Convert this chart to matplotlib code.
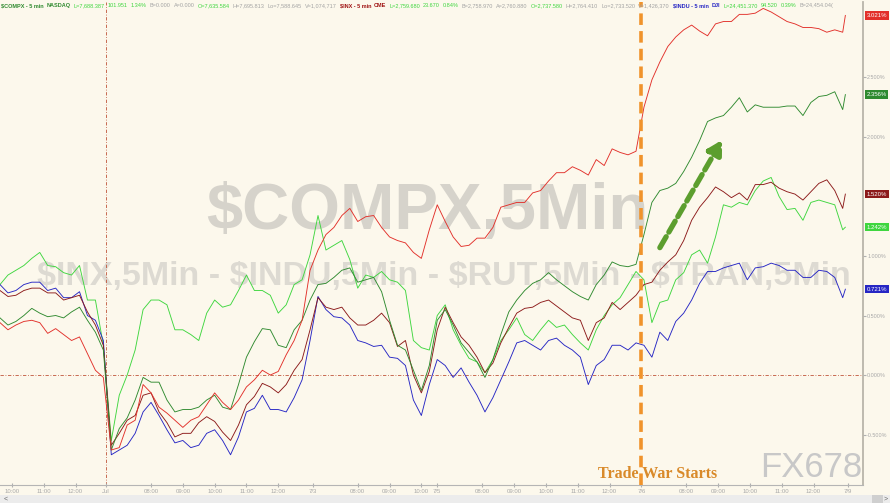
import matplotlib
matplotlib.use("Agg")
import matplotlib.pyplot as plt
from matplotlib import font_manager
from matplotlib.patches import Rectangle
import matplotlib.transforms as mtransforms

# x = 5-minute bar index, starting Jun 29 afternoon, one sample every 3 bars
bars = list(range(0, 319, 3)) + [319]

# % change of each index (segments: Jun 29 | Jul 2 | Jul 3 | Jul 5 | Jul 6)
inx = [0.44, 0.38, 0.42, 0.45, 0.46, 0.44, 0.35, 0.39, 0.34, 0.29, 0.32, 0.18, 0.04, -0.02,
       -0.63, -0.61, -0.42, -0.38, -0.08, -0.15, -0.27, -0.32, -0.38, -0.44, -0.38, -0.35, -0.25,
       -0.15, -0.23, -0.29, -0.21, -0.10, -0.04, 0.04, 0.00, 0.03, 0.17, 0.29, 0.46, 0.88,
       1.05, 1.18, 1.24, 1.34, 1.40, 1.29, 1.33, 1.34, 1.24, 1.16, 1.13, 1.11, 1.03, 0.98, 1.22,
       1.43, 1.29, 1.16, 1.08, 1.09, 1.15, 1.15, 1.24, 1.41, 1.43, 1.45, 1.45, 1.53, 1.55, 1.63,
       1.70, 1.70, 1.75, 1.72, 1.68, 1.81, 1.76, 1.90, 1.87, 1.85, 1.88,
       2.25, 2.48, 2.63, 2.76, 2.84, 2.90, 2.94, 2.89, 2.85, 2.95, 2.97, 2.97, 3.03, 3.03, 3.04,
       3.08, 3.05, 3.01, 2.97, 2.95, 2.92, 2.92, 2.91, 2.88, 2.90, 2.88, 3.021]

compx = [0.48, 0.42, 0.45, 0.50, 0.56, 0.52, 0.49, 0.50, 0.48, 0.53, 0.57, 0.46, 0.36, 0.21,
         -0.63, -0.45, -0.36, -0.21, -0.02, -0.06, -0.06, -0.21, -0.31, -0.29, -0.29, -0.27, -0.21,
         -0.17, -0.27, -0.29, -0.08, 0.15, 0.28, 0.39, 0.38, 0.25, 0.23, 0.38, 0.46, 0.63,
         0.76, 0.77, 0.82, 0.88, 0.90, 0.78, 0.80, 0.82, 0.70, 0.46, 0.25, 0.21, 0.04, -0.13, 0.08,
         0.46, 0.55, 0.42, 0.27, 0.19, 0.11, -0.02, 0.13, 0.34, 0.53, 0.63, 0.71, 0.77, 0.80, 0.86,
         0.80, 0.75, 0.70, 0.66, 0.63, 0.76, 0.84, 0.95, 0.92, 0.91, 0.93,
         1.18, 1.45, 1.55, 1.57, 1.61, 1.71, 1.83, 1.97, 2.13, 2.16, 2.18, 2.25, 2.33, 2.21, 2.27,
         2.25, 2.25, 2.25, 2.26, 2.26, 2.18, 2.29, 2.34, 2.35, 2.38, 2.23, 2.356]

tran = [0.71, 0.66, 0.67, 0.71, 0.73, 0.73, 0.69, 0.69, 0.63, 0.65, 0.67, 0.53, 0.42, 0.25,
        -0.59, -0.49, -0.38, -0.34, -0.17, -0.15, -0.31, -0.40, -0.52, -0.49, -0.49, -0.40, -0.35,
        -0.39, -0.48, -0.55, -0.42, -0.25, -0.18, -0.07, -0.10, -0.15, -0.08, 0.04, 0.13, 0.38,
        0.65, 0.57, 0.55, 0.57, 0.48, 0.42, 0.42, 0.46, 0.52, 0.44, 0.24, 0.29, 0.00, -0.15, 0.03,
        0.38, 0.57, 0.44, 0.32, 0.25, 0.15, 0.02, 0.10, 0.27, 0.40, 0.52, 0.56, 0.57, 0.61, 0.63,
        0.58, 0.53, 0.48, 0.46, 0.29, 0.44, 0.48, 0.61, 0.55, 0.61, 0.67,
        0.76, 0.78, 0.88, 0.95, 1.01, 1.13, 1.30, 1.41, 1.49, 1.58, 1.54, 1.49, 1.53, 1.47, 1.60,
        1.60, 1.62, 1.57, 1.54, 1.52, 1.47, 1.54, 1.61, 1.64, 1.55, 1.40, 1.520]

rut = [0.76, 0.84, 0.88, 0.92, 0.98, 1.03, 0.92, 0.91, 0.86, 0.84, 0.92, 0.63, 0.63, 0.25,
       -0.55, -0.17, 0.00, 0.21, 0.55, 0.63, 0.63, 0.59, 0.38, 0.38, 0.34, 0.29, 0.52,
       0.63, 0.57, 0.59, 0.71, 0.84, 0.71, 0.71, 0.67, 0.52, 0.59, 0.76, 0.80, 1.01,
       1.34, 1.05, 1.09, 1.13, 0.97, 0.73, 0.84, 0.82, 0.87, 0.80, 0.78, 0.71, 0.29, 0.23, 0.21,
       0.50, 0.59, 0.38, 0.25, 0.14, 0.11, 0.02, 0.13, 0.29, 0.38, 0.48, 0.34, 0.29, 0.38, 0.46,
       0.40, 0.42, 0.34, 0.27, 0.21, 0.38, 0.50, 0.59, 0.65, 0.76, 0.87,
       0.80, 0.44, 0.61, 0.63, 0.80, 0.86, 1.01, 1.05, 0.94, 1.16, 1.43, 1.41, 1.45, 1.43, 1.55,
       1.63, 1.66, 1.50, 1.39, 1.40, 1.30, 1.45, 1.47, 1.45, 1.43, 1.22, 1.242]

indu = [0.76, 0.69, 0.71, 0.76, 0.78, 0.78, 0.71, 0.73, 0.65, 0.65, 0.70, 0.50, 0.46, 0.29,
        -0.67, -0.63, -0.59, -0.49, -0.31, -0.23, -0.34, -0.46, -0.57, -0.55, -0.61, -0.59, -0.49,
        -0.46, -0.55, -0.67, -0.52, -0.31, -0.28, -0.17, -0.29, -0.29, -0.31, -0.19, -0.04, 0.29,
        0.66, 0.55, 0.49, 0.48, 0.42, 0.29, 0.27, 0.24, 0.25, 0.15, 0.14, 0.08, -0.21, -0.34, -0.08,
        0.13, 0.08, -0.02, 0.06, -0.06, -0.17, -0.31, -0.19, -0.04, 0.11, 0.27, 0.29, 0.25, 0.21,
        0.29, 0.31, 0.25, 0.21, 0.15, -0.08, 0.08, 0.13, 0.25, 0.25, 0.21, 0.27,
        0.25, 0.15, 0.36, 0.29, 0.45, 0.52, 0.63, 0.77, 0.87, 0.87, 0.90, 0.92, 0.94, 0.80, 0.90,
        0.91, 0.94, 0.92, 0.88, 0.88, 0.82, 0.82, 0.88, 0.87, 0.82, 0.65, 0.721]

last_labels = ["3.021%", "2.356%", "1.520%", "1.242%", "0.721%"]

# session layout (bar index where each day opens)
day_starts = [40, 118, 165, 242, 320]
day_labels = ["Jul", "7/3", "7/5", "7/6", "7/9"]
trade_war_bar = 242

BG = "#fcf8ec"
RED = "#e2302a"
DKGREEN = "#2f8a2f"
BROWN = "#8c1a1a"
LTGREEN = "#3fd63f"
BLUE = "#2626c4"
GREY = "#a3a3a3"

W, H = 890, 503
plt.rcParams["font.family"] = ["Liberation Sans", "DejaVu Sans"]
fig = plt.figure(figsize=(W / 100, H / 100), dpi=100, facecolor=BG)
ax = fig.add_axes([0, 18 / H, 863 / W, 483 / H])
ax.set_facecolor(BG)

# background watermarks
names = {f.name for f in font_manager.fontManager.ttflist}
if "Liberation Sans Narrow" in names:
    wm_fam, wm_size, wm2_size = "Liberation Sans Narrow", 57, 29
else:
    wm_fam, wm_size, wm2_size = "Liberation Sans", 47, 24.5
ax.text(0.495, 0.565, "$COMPX,5Min", transform=ax.transAxes, ha="center", va="center",
        fontsize=wm_size, fontweight="bold", family=wm_fam, color="#d6d3cb", zorder=0,
        parse_math=False)
ax.text(0.514, 0.431, "$INX,5Min - $INDU,5Min - $RUT,5Min - $TRAN,5Min", transform=ax.transAxes,
        ha="center", va="center", fontsize=wm2_size, fontweight="bold", family=wm_fam,
        color="#dddad2", zorder=0, parse_math=False)
ax.text(0.94, 0.036, "FX678", transform=ax.transAxes, ha="center", va="center",
        fontsize=25, color="#c8c8c8", zorder=0)

# reference lines
ax.axhline(0, color="#c0553a", lw=0.6, ls=(0, (4, 2, 1, 2)), zorder=1)
ax.axvline(day_starts[0], color="#c0553a", lw=0.6, ls=(0, (4, 2, 1, 2)), zorder=1)

# the five series
series = [(rut, LTGREEN), (indu, BLUE), (tran, BROWN), (compx, DKGREEN), (inx, RED)]
for vals, col in series:
    ax.plot(bars, vals, color=col, lw=0.65, zorder=3)

# trade war marker
ax.axvline(trade_war_bar, color="#f0932b", lw=2.6, ls=(0, (3.2, 1.7)), zorder=4)
ax.text(0.762, 0.023, "Trade War Starts", transform=ax.transAxes, ha="center", va="center",
        fontsize=11.5, fontweight="bold", family="Liberation Serif", color="#d98a2a", zorder=2)

# green dashed arrow
ax.annotate("", xy=(272.5, 1.975), xytext=(249, 1.07),
            arrowprops=dict(arrowstyle="-|>,head_length=0.8,head_width=0.45", color="#5c9e2e",
                            lw=3.8, ls=(0, (2.4, 1.0)), shrinkA=0, shrinkB=0), zorder=5)

ax.set_xlim(0, 863 / 2.65)
ax.set_ylim(-0.924, 3.134)

# right axis
for s in ["left", "top"]:
    ax.spines[s].set_visible(False)
ax.spines["right"].set_color("#b9b5aa")
ax.spines["right"].set_linewidth(1.3)
ax.spines["bottom"].set_color("#b5b5b5")
ax.spines["bottom"].set_linewidth(0.8)
ax.yaxis.tick_right()
yt = [-0.5, 0.0, 0.5, 1.0, 2.0, 2.5]
ax.set_yticks(yt)
ax.set_yticklabels(["%.3f%%" % v for v in yt])
ax.tick_params(axis="y", labelsize=3.9, labelcolor="#a8a8a8", color="#b0b0b0", length=2.0, pad=1.0)

# x ticks: hours + day labels
xt = [4.5, 16.5, 28.5]
xl = ["10:00", "11:00", "12:00"]
for s, n in [(40, 5), (118, 3), (165, 5), (242, 5)]:
    for k in range(n):
        xt.append(s + 17 + 12 * k)
        xl.append("%02d:00" % (8 + k))
xt += day_starts
xl += day_labels
ax.set_xticks(xt)
ax.set_xticklabels(xl)
ax.tick_params(axis="x", labelsize=4.3, labelcolor="#a8a8a8", color="#b0b0b0", length=3,
               direction="inout", pad=1.5)

# last value boxes
blend = mtransforms.blended_transform_factory(ax.transAxes, ax.transData)
for vals, col, lab in zip([inx, compx, tran, rut, indu], [RED, DKGREEN, BROWN, LTGREEN, BLUE],
                          last_labels):
    ax.text(1.004, vals[-1], lab, transform=blend, ha="left", va="center", fontsize=4.3,
            color="white", clip_on=False, zorder=10,
            bbox=dict(boxstyle="square,pad=0.3", fc=col, ec="none"))

# header line of quotes
header = [
    ("$COMPX - 5 min", DKGREEN, "bold"), ("NASDAQ", DKGREEN, "bold"),
    ("L=7,688.387", LTGREEN, "normal"), ("101.951", LTGREEN, "normal"), ("1.34%", LTGREEN, "normal"),
    ("B=0.000", GREY, "normal"), ("A=0.000", GREY, "normal"), ("O=7,635.584", LTGREEN, "normal"),
    ("H=7,695.813", GREY, "normal"), ("Lo=7,588.645", GREY, "normal"), ("V=1,074,717", GREY, "normal"),
    ("$INX - 5 min", "#a01515", "bold"), ("CME", "#a01515", "bold"),
    ("L=2,759.680", LTGREEN, "normal"), ("23.670", LTGREEN, "normal"), ("0.84%", LTGREEN, "normal"),
    ("B=2,758.970", GREY, "normal"), ("A=2,760.880", GREY, "normal"), ("O=2,737.580", LTGREEN, "normal"),
    ("H=2,764.410", GREY, "normal"), ("Lo=2,733.520", GREY, "normal"), ("V=1,426,370", GREY, "normal"),
    ("$INDU - 5 min", BLUE, "bold"), ("DJI", BLUE, "bold"),
    ("L=24,451.370", LTGREEN, "normal"), ("94.520", LTGREEN, "normal"), ("0.39%", LTGREEN, "normal"),
    ("B=24,454.04(", GREY, "normal"),
]
renderer = fig.canvas.get_renderer()
xpos = 1.0
for txt, col, wt in header:
    t = fig.text(xpos / W, 1 - 5.5 / H, txt, fontsize=4.0, color=col, fontweight=wt,
                 ha="left", va="center", parse_math=False)
    xpos += t.get_window_extent(renderer).width + 3.0

# scroll bar strip at the bottom
fig.patches.append(Rectangle((0, 0), 1, 8 / H, transform=fig.transFigure, fc="#ececec", ec="none"))
fig.patches.append(Rectangle((872 / W, 0), 11 / W, 8 / H, transform=fig.transFigure,
                             fc="#cfcfcf", ec="none"))
fig.text(4 / W, 4 / H, "<", fontsize=5, color="#666666", va="center")
fig.text(884 / W, 4 / H, ">", fontsize=5, color="#666666", va="center")

fig.savefig("out.png", dpi=100, facecolor=BG)
